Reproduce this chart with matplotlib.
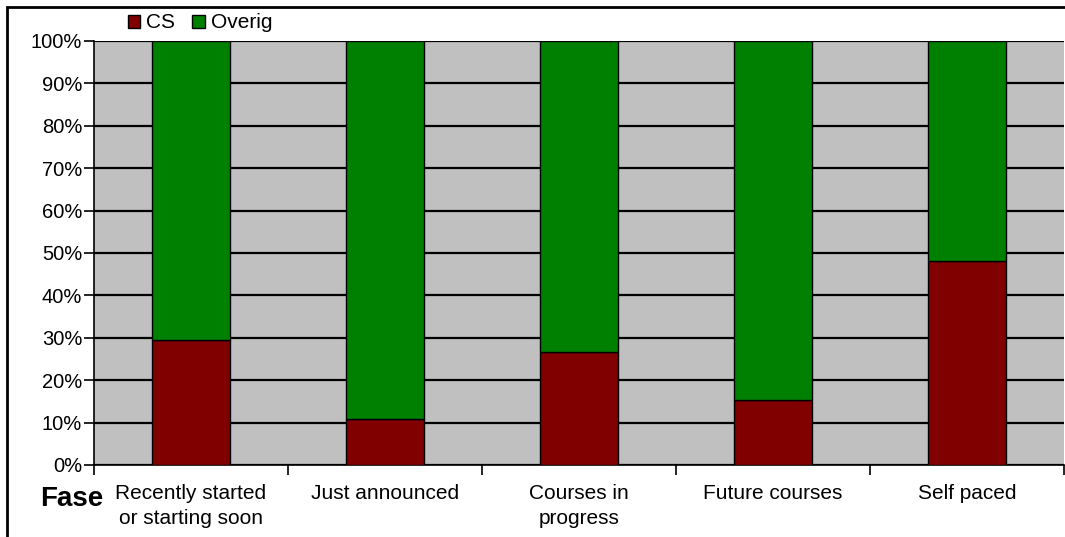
import matplotlib
matplotlib.use("Agg")
import matplotlib.pyplot as plt
from matplotlib.patches import Rectangle, Patch
import numpy as np

categories = ["Recently started\nor starting soon", "Just announced",
              "Courses in\nprogress", "Future courses", "Self paced"]
cs = [29.5, 10.8, 26.7, 15.3, 48.1]
overig = [70.5, 89.2, 73.3, 84.7, 51.9]
yticklabels = ["0%", "10%", "20%", "30%", "40%", "50%", "60%", "70%", "80%", "90%", "100%"]

plt.rcParams['font.family'] = ['Liberation Sans', 'DejaVu Sans']

W, H = 1065, 537
fig = plt.figure(figsize=(W / 100, H / 100), dpi=100)
ax = fig.add_axes([94 / W, (H - 465) / H, (1064 - 94) / W, (465 - 41) / H])
ax.set_facecolor("#C0C0C0")

x = np.arange(len(categories))
ax.set_axisbelow(True)
ax.yaxis.grid(True, color="black", linewidth=1.6)
ax.bar(x, cs, width=0.40, color="#800000", edgecolor="black", linewidth=1, zorder=3)
ax.bar(x, overig, width=0.40, bottom=cs, color="#008000", edgecolor="black", linewidth=1, zorder=3)

ax.set_xlim(-0.5, len(categories) - 0.5)
ax.set_ylim(0, 100)
ax.set_yticks(np.arange(0, 101, 10))
ax.set_yticklabels(yticklabels, fontsize=14.5)
ax.tick_params(axis='y', length=7, width=1.2, pad=1.5, direction='out')

ax.set_xticks(x)
ax.set_xticklabels(categories, fontsize=15, linespacing=1.4)
ax.set_xticks(np.arange(-0.5, len(categories)), minor=True)
ax.tick_params(axis='x', which='major', length=0, pad=14)
ax.tick_params(axis='x', which='minor', length=7, width=1.2, direction='out')

for s in ["top", "right"]:
    ax.spines[s].set_visible(False)
for s in ["left", "bottom"]:
    ax.spines[s].set_linewidth(1.2)

handles = [Patch(facecolor="#800000", edgecolor="black", label="CS"),
           Patch(facecolor="#008000", edgecolor="black", label="Overig")]
fig.legend(handles=handles, loc="center", bbox_to_anchor=(200 / W, 1 - 23 / H),
           ncol=2, frameon=False, fontsize=15, handlelength=0.6, handleheight=0.6,
           handletextpad=0.3, columnspacing=0.8, borderpad=0)

fig.text(40 / W, 1 - 499 / H, "Fase", fontsize=20, fontweight="bold", va="center", ha="left")

fig.patches.append(Rectangle((7 / W, -0.1), 1.2, 1.1 - 7 / H, transform=fig.transFigure,
                             fill=False, edgecolor="black", linewidth=2))

fig.savefig("out.png", dpi=100)
